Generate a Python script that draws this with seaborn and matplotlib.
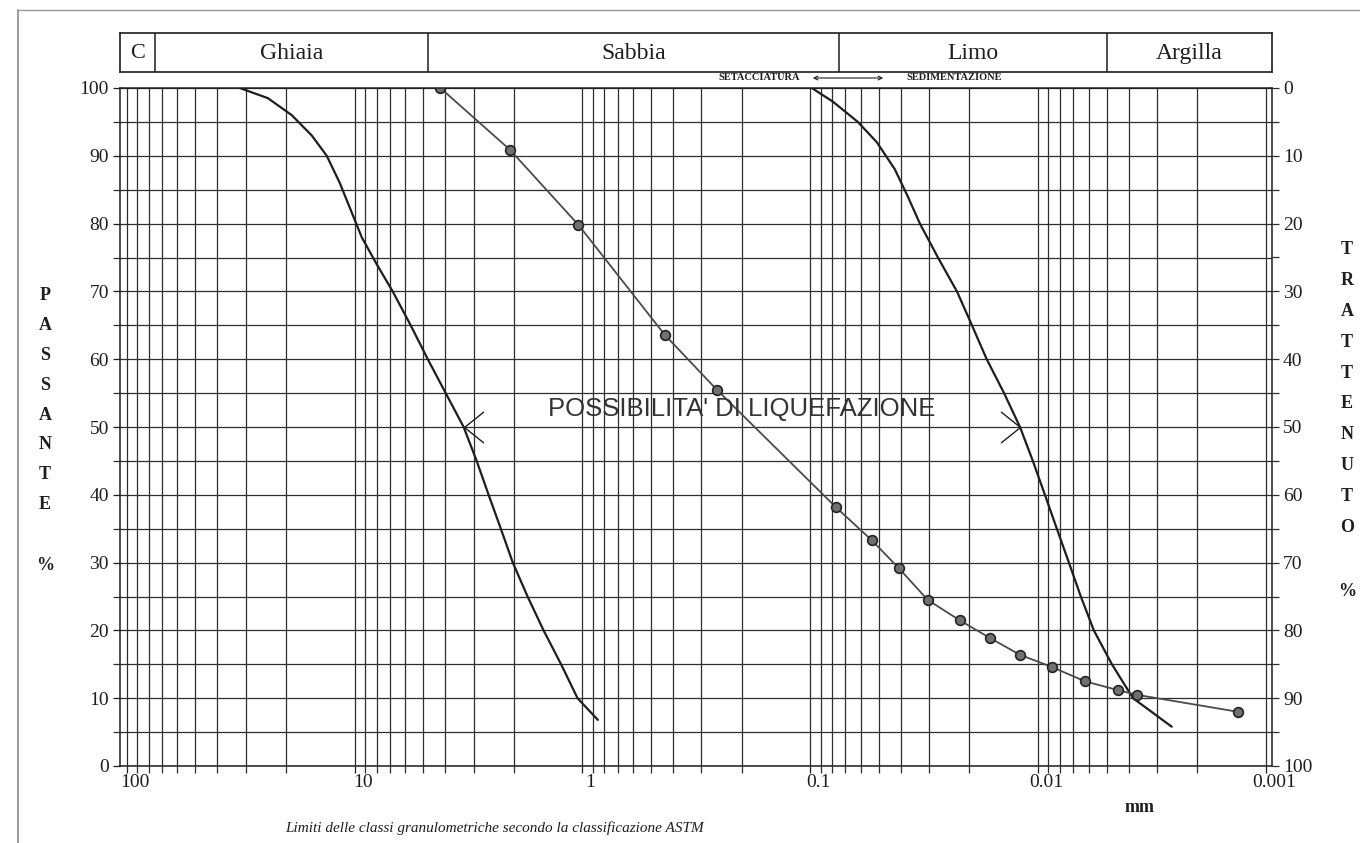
"""Curva granulometrica con fuso di liquefazione (classificazione ASTM)."""

import numpy as np
import pandas as pd
import matplotlib
matplotlib.use("Agg")
import matplotlib.pyplot as plt
import matplotlib.ticker as mticker
import matplotlib.transforms as mtransforms
from matplotlib.lines import Line2D
from matplotlib.patches import FancyArrowPatch
import seaborn as sns

# ── data (diameter in mm, % passing) ──
sample_d = [4.2, 2.08, 1.04, 0.435, 0.257, 0.0773, 0.0537, 0.0409, 0.0305,
            0.0221, 0.0163, 0.0120, 0.00869, 0.00623, 0.00447, 0.00368, 0.00133]
sample_pass = [100, 90.9, 79.8, 63.6, 55.5, 38.2, 33.3, 29.2, 24.5,
               21.5, 18.9, 16.4, 14.6, 12.5, 11.2, 10.5, 8.0]

# coarse limit of the liquefaction band
coarse_d = [31.9, 24.0, 18.87, 15.41, 13.24, 11.61, 10.39, 9.30, 7.99, 6.80, 5.67,
            4.77, 3.98, 3.32, 2.91, 2.58, 2.28, 2.02, 1.74, 1.48, 1.24, 1.05, 0.855]
coarse_pass = [100, 98.5, 96, 93, 90, 86, 82, 78, 74, 70, 65,
               60, 55, 50, 45, 40, 35, 30, 25, 20, 15, 10, 6.8]

# fine limit of the liquefaction band
fine_d = [0.0984, 0.0796, 0.0618, 0.0510, 0.0425, 0.0373, 0.0330, 0.0275, 0.0227,
          0.0195, 0.0168, 0.0141, 0.0120, 0.01054, 0.00933, 0.00827, 0.00732,
          0.00649, 0.00569, 0.00474, 0.00383, 0.00259]
fine_pass = [100, 98, 95, 92, 88, 84, 80, 75, 70,
             65, 60, 55, 50, 45, 40, 35, 30,
             25, 20, 15, 10, 5.8]

class_names = ["C", "Ghiaia", "Sabbia", "Limo", "Argilla"]
class_bounds = [75, 4.75, 0.075, 0.005]

x_ticks = [100, 10, 1, 0.1, 0.01, 0.001]
x_ticklabels = ["100", "10", "1", "0.1", "0.01", "0.001"]
y_ticks = [0, 10, 20, 30, 40, 50, 60, 70, 80, 90, 100]

X_LIM = (107, 0.00094)
W, H = 1360, 843
INK = "#1e1e1e"
GRID = "#2e2e2e"

sns.set_theme(style="white")
plt.rcParams["font.family"] = ["Liberation Serif", "DejaVu Serif"]


def fx(px):
    return px / W


def fy(py):
    return 1 - py / H


fig = plt.figure(figsize=(W / 100, H / 100), dpi=100)
fig.patch.set_facecolor("white")

ax = fig.add_axes([fx(120), fy(766), fx(1272) - fx(120), fy(88) - fy(766)])
ax.set_xscale("log")
ax.set_xlim(*X_LIM)
ax.set_ylim(0, 100)

# grid: log minor verticals, every 5 % horizontally
ax.xaxis.set_minor_locator(mticker.LogLocator(base=10, subs=np.arange(2, 10), numticks=20))
ax.xaxis.set_minor_formatter(mticker.NullFormatter())
ax.set_xticks(x_ticks)
ax.set_xticklabels(x_ticklabels)
ax.set_yticks(y_ticks)
ax.yaxis.set_minor_locator(mticker.MultipleLocator(5))
ax.grid(which="both", axis="both", color=GRID, lw=0.9)
ax.set_axisbelow(True)
ax.tick_params(axis="both", which="both", direction="out", length=5, width=0.9,
               color=GRID, bottom=True, left=True)
ax.tick_params(axis="x", which="major", labelsize=14, pad=1, colors=INK)
ax.tick_params(axis="y", which="major", labelsize=14, pad=3, colors=INK)
for s in ax.spines.values():
    s.set_color(INK)
    s.set_linewidth(1.1)

# labels sit a little right of their decade lines in the original sheet
shift = mtransforms.ScaledTranslation(8 / 100, 0, fig.dpi_scale_trans)
for lab in ax.get_xticklabels():
    lab.set_transform(lab.get_transform() + shift)

# right axis: % retained
ax2 = ax.twinx()
ax2.set_ylim(100, 0)
ax2.set_yticks(y_ticks)
ax2.yaxis.set_minor_locator(mticker.MultipleLocator(5))
ax2.tick_params(axis="y", which="both", direction="out", length=5, width=0.9,
                color=GRID, right=True, labelsize=14, pad=3, labelcolor=INK)
ax2.grid(False)
for s in ax2.spines.values():
    s.set_visible(False)

# ── curves ──
sns.lineplot(x=coarse_d, y=coarse_pass, ax=ax, color=INK, lw=1.6,
             sort=False, estimator=None, solid_joinstyle="round")
sns.lineplot(x=fine_d, y=fine_pass, ax=ax, color=INK, lw=1.6,
             sort=False, estimator=None, solid_joinstyle="round")
sample = pd.DataFrame({"d": sample_d, "p": sample_pass})
sns.lineplot(data=sample, x="d", y="p", ax=ax, color="#4a4a4a", lw=1.3,
             sort=False, estimator=None, marker="o", markersize=7,
             markerfacecolor="#707070", markeredgecolor="#222222", markeredgewidth=1.2)

# arrow ticks at the 50 % point of each boundary curve
i_c = int(np.argmin(np.abs(np.array(coarse_pass) - 50)))
i_f = int(np.argmin(np.abs(np.array(fine_pass) - 50)))
ax.plot(coarse_d[i_c], coarse_pass[i_c], marker=[(1, 0.8), (0, 0), (1, -0.8)],
        markersize=28, markerfacecolor="none", markeredgecolor=INK, markeredgewidth=1.0)
ax.plot(fine_d[i_f], fine_pass[i_f], marker=[(-1, 0.8), (0, 0), (-1, -0.8)],
        markersize=28, markerfacecolor="none", markeredgecolor=INK, markeredgewidth=1.0)

ax.text(0.2, 52.6, "POSSIBILITA' DI LIQUEFAZIONE", ha="center", va="center",
        fontsize=18.5, color="#333333", family=["Liberation Sans", "DejaVu Sans"])
ax.set_xlabel("")
ax.set_ylabel("")

# ── header with ASTM classes ──
hax = fig.add_axes([fx(120), fy(72), fx(1272) - fx(120), fy(33) - fy(72)])
hax.set_xscale("log")
hax.set_xlim(*X_LIM)
hax.set_ylim(0, 1)
hax.set_xticks([])
hax.set_yticks([])
hax.minorticks_off()
for s in hax.spines.values():
    s.set_color(INK)
    s.set_linewidth(1.2)
hax.vlines(class_bounds, 0, 1, color=INK, lw=1.1)
edges = [X_LIM[0]] + class_bounds + [X_LIM[1]]
for name, a, b in zip(class_names, edges[:-1], edges[1:]):
    hax.text(np.sqrt(a * b), 0.48, name, ha="center", va="center",
             fontsize=17 if name != "C" else 16, color=INK)

# sieving / sedimentation note
fig.text(fx(800), fy(78), "SETACCIATURA", ha="right", va="center",
         fontsize=7.5, color=INK, weight="bold")
fig.text(fx(906), fy(78), "SEDIMENTAZIONE", ha="left", va="center",
         fontsize=7.5, color=INK, weight="bold")
fig.add_artist(FancyArrowPatch(
    (fx(810), fy(78)), (fx(886), fy(78)), transform=fig.transFigure,
    arrowstyle="<->", mutation_scale=7, lw=0.8, color=INK))

# vertical axis titles, one letter per line
for k, ch in enumerate("PASSANTE"):
    fig.text(fx(45), fy(295 + 30 * k), ch, ha="center", va="center",
             fontsize=13, weight="bold", color=INK)
fig.text(fx(45), fy(565), "%", ha="center", va="center", fontsize=13,
         weight="bold", color=INK)
for k, ch in enumerate("TRATTENUTO"):
    fig.text(fx(1347), fy(250 + 30.8 * k), ch, ha="center", va="center",
             fontsize=13, weight="bold", color=INK)
fig.text(fx(1347), fy(592), "%", ha="center", va="center", fontsize=13,
         weight="bold", color=INK)

fig.text(fx(1140), fy(808), "mm", ha="center", va="center", fontsize=13,
         weight="bold", color=INK)
fig.text(fx(495), fy(828), "Limiti delle classi granulometriche secondo la classificazione ASTM",
         ha="center", va="center", fontsize=11, style="italic", color=INK)

# scanned sheet border
fig.add_artist(Line2D([fx(18), fx(18)], [fy(10), 0], color="#8a8a8a", lw=1.2))
fig.add_artist(Line2D([fx(18), 1], [fy(10), fy(10)], color="#9a9a9a", lw=1.0))

fig.savefig("out.png", dpi=100, facecolor="white")
plt.close(fig)
